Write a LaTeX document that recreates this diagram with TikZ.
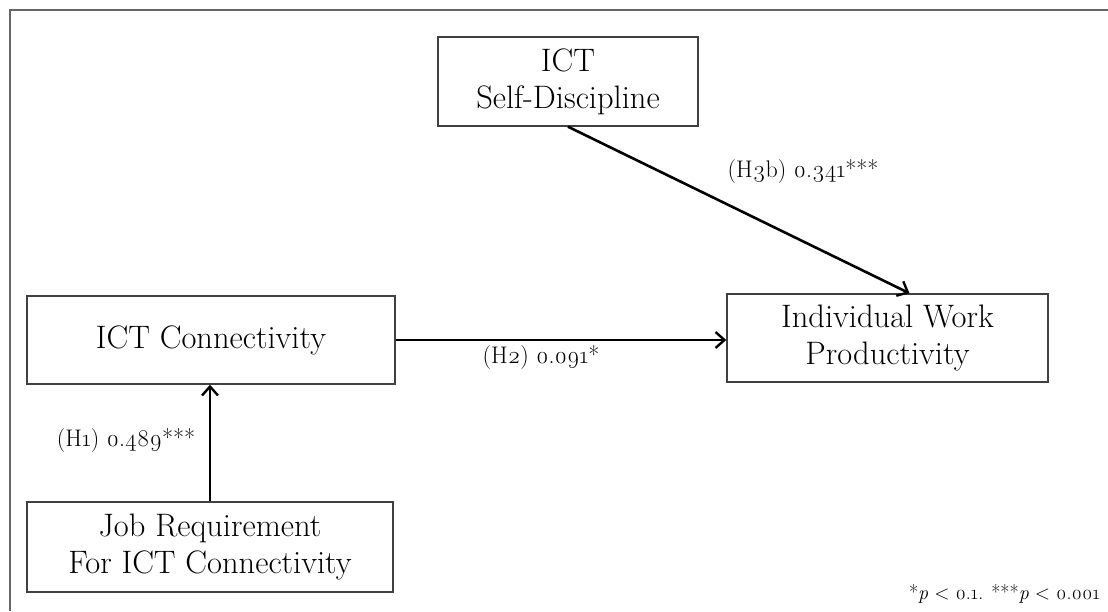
\documentclass[tikz,border=0pt]{standalone}
\usepackage{fontspec}
\setmainfont{Latin Modern Roman}[Numbers=OldStyle]
\usetikzlibrary{arrows.meta,positioning,calc}
\begin{document}
\begin{tikzpicture}[x=1pt,y=1pt,
  box/.style={draw=black!75,line width=1.4pt,minimum width=#1,inner sep=0pt,align=center,font=\fontsize{32.5}{37}\selectfont},
  conn/.style={line width=2.6pt,-{Straight Barb[length=9pt,width=16pt,line width=2.4pt]}},
  lbl/.style={font=\fontsize{24}{28}\selectfont,inner sep=0pt},
  frameline/.style={draw=black!60,line width=2.2pt}]
\useasboundingbox (0,0) rectangle (1108,611);
\draw[frameline] (10,0) -- (10,601) -- (1108,601);
\node[box=260pt,minimum height=89pt] (sd) at (568,529.5) {ICT\\Self-Discipline};
\node[box=368pt,minimum height=88pt] (conn) at (211,271) {ICT Connectivity};
\node[box=321pt,minimum height=88pt] (ind) at (887.5,273) {Individual Work\\Productivity};
\node[box=366pt,minimum height=90pt] (job) at (210,64) {Job Requirement\\For ICT Connectivity};
\coordinate (indtop) at ([xshift=22pt]ind.north);
\draw[conn] (job.north) -- (job.north |- conn.south);
\draw[conn] (conn.east) -- (conn.east -| ind.west);
\draw[conn] (sd.south) -- (indtop);
\node[lbl] (h1) at (126,170) {(H1) 0.489***};
\node[lbl] (h2) at (541,253) {(H2) 0.091*};
\node[lbl] (h3) at (803,439) {(H3b) 0.341***};
\node[lbl,font=\fontsize{20}{24}\selectfont,anchor=east] (fn) at (1100,17) {*\textit{p} < 0.1. ***\textit{p} < 0.001};
\end{tikzpicture}
\end{document}
